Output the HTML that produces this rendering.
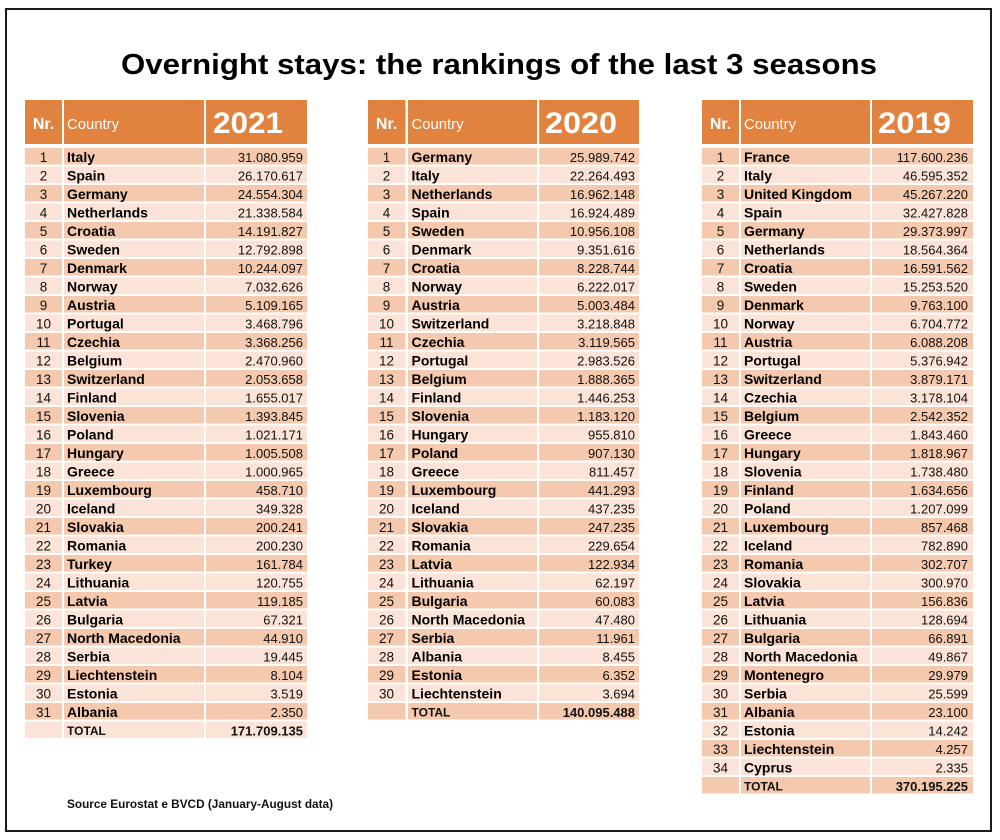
<!DOCTYPE html>
<html><head><meta charset="utf-8"><style>
html,body{margin:0;padding:0;background:#fff;}
svg{display:block;}
.t{font-family:"Liberation Sans",Arial,sans-serif;}
.nr{font-size:13.5px;fill:#111;text-anchor:middle;}
.c{font-size:14px;font-weight:bold;fill:#000;}
.v{font-size:13px;fill:#111;text-anchor:end;}
.vb{font-size:13px;font-weight:bold;fill:#111;text-anchor:end;}
.tot{font-size:12px;font-weight:bold;fill:#111;}
.hn{font-size:16px;font-weight:bold;fill:#fff;text-anchor:middle;}
.hc{font-size:15px;fill:#fff;}
.hy{font-size:30px;font-weight:bold;fill:#fff;}
</style></head><body>
<svg width="1000" height="840" viewBox="0 0 1000 840" xmlns="http://www.w3.org/2000/svg">
<defs>
<pattern id="st" patternUnits="userSpaceOnUse" x="0" y="148" width="10" height="37">
<rect x="0" y="0" width="10" height="16.5" fill="#F5C9AE"/>
<rect x="0" y="18.5" width="10" height="16.5" fill="#FBE4D7"/>
</pattern>
</defs>
<rect x="0" y="0" width="1000" height="840" fill="#fff"/>
<rect x="6" y="9" width="985" height="822" fill="none" stroke="#1a1a1a" stroke-width="2"/>

<text class="t" x="121" y="74" font-size="29" font-weight="bold" fill="#000" textLength="756" lengthAdjust="spacingAndGlyphs">Overnight stays: the rankings of the last 3 seasons</text>

<!-- Table 1 -->
<rect x="25" y="100" width="282" height="44" fill="#E2823F"/>
<rect x="25" y="148" width="282" height="590" fill="url(#st)"/>
<rect x="62" y="98" width="2" height="645" fill="#fff"/>
<rect x="204" y="98" width="2" height="645" fill="#fff"/>
<text class="t hn" x="43.5" y="129">Nr.</text>
<text class="t hc" x="67" y="129" textLength="52" lengthAdjust="spacingAndGlyphs">Country</text>
<text class="t hy" x="213" y="133" textLength="70" lengthAdjust="spacingAndGlyphs">2021</text>

<text class="t nr"><tspan x="43.5" y="162">1</tspan><tspan x="43.5" dy="18.5">2</tspan><tspan x="43.5" dy="18.5">3</tspan><tspan x="43.5" dy="18.5">4</tspan><tspan x="43.5" dy="18.5">5</tspan><tspan x="43.5" dy="18.5">6</tspan><tspan x="43.5" dy="18.5">7</tspan><tspan x="43.5" dy="18.5">8</tspan><tspan x="43.5" dy="18.5">9</tspan><tspan x="43.5" dy="18.5">10</tspan><tspan x="43.5" dy="18.5">11</tspan><tspan x="43.5" dy="18.5">12</tspan><tspan x="43.5" dy="18.5">13</tspan><tspan x="43.5" dy="18.5">14</tspan><tspan x="43.5" dy="18.5">15</tspan><tspan x="43.5" dy="18.5">16</tspan><tspan x="43.5" dy="18.5">17</tspan><tspan x="43.5" dy="18.5">18</tspan><tspan x="43.5" dy="18.5">19</tspan><tspan x="43.5" dy="18.5">20</tspan><tspan x="43.5" dy="18.5">21</tspan><tspan x="43.5" dy="18.5">22</tspan><tspan x="43.5" dy="18.5">23</tspan><tspan x="43.5" dy="18.5">24</tspan><tspan x="43.5" dy="18.5">25</tspan><tspan x="43.5" dy="18.5">26</tspan><tspan x="43.5" dy="18.5">27</tspan><tspan x="43.5" dy="18.5">28</tspan><tspan x="43.5" dy="18.5">29</tspan><tspan x="43.5" dy="18.5">30</tspan><tspan x="43.5" dy="18.5">31</tspan></text>
<text class="t c"><tspan x="67" y="162">Italy</tspan><tspan x="67" dy="18.5">Spain</tspan><tspan x="67" dy="18.5">Germany</tspan><tspan x="67" dy="18.5">Netherlands</tspan><tspan x="67" dy="18.5">Croatia</tspan><tspan x="67" dy="18.5">Sweden</tspan><tspan x="67" dy="18.5">Denmark</tspan><tspan x="67" dy="18.5">Norway</tspan><tspan x="67" dy="18.5">Austria</tspan><tspan x="67" dy="18.5">Portugal</tspan><tspan x="67" dy="18.5">Czechia</tspan><tspan x="67" dy="18.5">Belgium</tspan><tspan x="67" dy="18.5">Switzerland</tspan><tspan x="67" dy="18.5">Finland</tspan><tspan x="67" dy="18.5">Slovenia</tspan><tspan x="67" dy="18.5">Poland</tspan><tspan x="67" dy="18.5">Hungary</tspan><tspan x="67" dy="18.5">Greece</tspan><tspan x="67" dy="18.5">Luxembourg</tspan><tspan x="67" dy="18.5">Iceland</tspan><tspan x="67" dy="18.5">Slovakia</tspan><tspan x="67" dy="18.5">Romania</tspan><tspan x="67" dy="18.5">Turkey</tspan><tspan x="67" dy="18.5">Lithuania</tspan><tspan x="67" dy="18.5">Latvia</tspan><tspan x="67" dy="18.5">Bulgaria</tspan><tspan x="67" dy="18.5">North Macedonia</tspan><tspan x="67" dy="18.5">Serbia</tspan><tspan x="67" dy="18.5">Liechtenstein</tspan><tspan x="67" dy="18.5">Estonia</tspan><tspan x="67" dy="18.5">Albania</tspan></text>
<text class="t v"><tspan x="303" y="162">31.080.959</tspan><tspan x="303" dy="18.5">26.170.617</tspan><tspan x="303" dy="18.5">24.554.304</tspan><tspan x="303" dy="18.5">21.338.584</tspan><tspan x="303" dy="18.5">14.191.827</tspan><tspan x="303" dy="18.5">12.792.898</tspan><tspan x="303" dy="18.5">10.244.097</tspan><tspan x="303" dy="18.5">7.032.626</tspan><tspan x="303" dy="18.5">5.109.165</tspan><tspan x="303" dy="18.5">3.468.796</tspan><tspan x="303" dy="18.5">3.368.256</tspan><tspan x="303" dy="18.5">2.470.960</tspan><tspan x="303" dy="18.5">2.053.658</tspan><tspan x="303" dy="18.5">1.655.017</tspan><tspan x="303" dy="18.5">1.393.845</tspan><tspan x="303" dy="18.5">1.021.171</tspan><tspan x="303" dy="18.5">1.005.508</tspan><tspan x="303" dy="18.5">1.000.965</tspan><tspan x="303" dy="18.5">458.710</tspan><tspan x="303" dy="18.5">349.328</tspan><tspan x="303" dy="18.5">200.241</tspan><tspan x="303" dy="18.5">200.230</tspan><tspan x="303" dy="18.5">161.784</tspan><tspan x="303" dy="18.5">120.755</tspan><tspan x="303" dy="18.5">119.185</tspan><tspan x="303" dy="18.5">67.321</tspan><tspan x="303" dy="18.5">44.910</tspan><tspan x="303" dy="18.5">19.445</tspan><tspan x="303" dy="18.5">8.104</tspan><tspan x="303" dy="18.5">3.519</tspan><tspan x="303" dy="18.5">2.350</tspan></text>
<text class="t tot" x="67" y="735">TOTAL</text>
<text class="t vb" x="303" y="735.5">171.709.135</text>

<!-- Table 2 -->
<rect x="368" y="100" width="271" height="44" fill="#E2823F"/>
<rect x="368" y="148" width="271" height="571.5" fill="url(#st)"/>
<rect x="405.5" y="98" width="2.5" height="625" fill="#fff"/>
<rect x="537" y="98" width="2.2" height="625" fill="#fff"/>
<text class="t hn" x="386.5" y="129">Nr.</text>
<text class="t hc" x="411.5" y="129" textLength="52" lengthAdjust="spacingAndGlyphs">Country</text>
<text class="t hy" x="545" y="133" textLength="72" lengthAdjust="spacingAndGlyphs">2020</text>

<text class="t nr"><tspan x="386.5" y="162">1</tspan><tspan x="386.5" dy="18.5">2</tspan><tspan x="386.5" dy="18.5">3</tspan><tspan x="386.5" dy="18.5">4</tspan><tspan x="386.5" dy="18.5">5</tspan><tspan x="386.5" dy="18.5">6</tspan><tspan x="386.5" dy="18.5">7</tspan><tspan x="386.5" dy="18.5">8</tspan><tspan x="386.5" dy="18.5">9</tspan><tspan x="386.5" dy="18.5">10</tspan><tspan x="386.5" dy="18.5">11</tspan><tspan x="386.5" dy="18.5">12</tspan><tspan x="386.5" dy="18.5">13</tspan><tspan x="386.5" dy="18.5">14</tspan><tspan x="386.5" dy="18.5">15</tspan><tspan x="386.5" dy="18.5">16</tspan><tspan x="386.5" dy="18.5">17</tspan><tspan x="386.5" dy="18.5">18</tspan><tspan x="386.5" dy="18.5">19</tspan><tspan x="386.5" dy="18.5">20</tspan><tspan x="386.5" dy="18.5">21</tspan><tspan x="386.5" dy="18.5">22</tspan><tspan x="386.5" dy="18.5">23</tspan><tspan x="386.5" dy="18.5">24</tspan><tspan x="386.5" dy="18.5">25</tspan><tspan x="386.5" dy="18.5">26</tspan><tspan x="386.5" dy="18.5">27</tspan><tspan x="386.5" dy="18.5">28</tspan><tspan x="386.5" dy="18.5">29</tspan><tspan x="386.5" dy="18.5">30</tspan></text>
<text class="t c"><tspan x="411.5" y="162">Germany</tspan><tspan x="411.5" dy="18.5">Italy</tspan><tspan x="411.5" dy="18.5">Netherlands</tspan><tspan x="411.5" dy="18.5">Spain</tspan><tspan x="411.5" dy="18.5">Sweden</tspan><tspan x="411.5" dy="18.5">Denmark</tspan><tspan x="411.5" dy="18.5">Croatia</tspan><tspan x="411.5" dy="18.5">Norway</tspan><tspan x="411.5" dy="18.5">Austria</tspan><tspan x="411.5" dy="18.5">Switzerland</tspan><tspan x="411.5" dy="18.5">Czechia</tspan><tspan x="411.5" dy="18.5">Portugal</tspan><tspan x="411.5" dy="18.5">Belgium</tspan><tspan x="411.5" dy="18.5">Finland</tspan><tspan x="411.5" dy="18.5">Slovenia</tspan><tspan x="411.5" dy="18.5">Hungary</tspan><tspan x="411.5" dy="18.5">Poland</tspan><tspan x="411.5" dy="18.5">Greece</tspan><tspan x="411.5" dy="18.5">Luxembourg</tspan><tspan x="411.5" dy="18.5">Iceland</tspan><tspan x="411.5" dy="18.5">Slovakia</tspan><tspan x="411.5" dy="18.5">Romania</tspan><tspan x="411.5" dy="18.5">Latvia</tspan><tspan x="411.5" dy="18.5">Lithuania</tspan><tspan x="411.5" dy="18.5">Bulgaria</tspan><tspan x="411.5" dy="18.5">North Macedonia</tspan><tspan x="411.5" dy="18.5">Serbia</tspan><tspan x="411.5" dy="18.5">Albania</tspan><tspan x="411.5" dy="18.5">Estonia</tspan><tspan x="411.5" dy="18.5">Liechtenstein</tspan></text>
<text class="t v"><tspan x="635" y="162">25.989.742</tspan><tspan x="635" dy="18.5">22.264.493</tspan><tspan x="635" dy="18.5">16.962.148</tspan><tspan x="635" dy="18.5">16.924.489</tspan><tspan x="635" dy="18.5">10.956.108</tspan><tspan x="635" dy="18.5">9.351.616</tspan><tspan x="635" dy="18.5">8.228.744</tspan><tspan x="635" dy="18.5">6.222.017</tspan><tspan x="635" dy="18.5">5.003.484</tspan><tspan x="635" dy="18.5">3.218.848</tspan><tspan x="635" dy="18.5">3.119.565</tspan><tspan x="635" dy="18.5">2.983.526</tspan><tspan x="635" dy="18.5">1.888.365</tspan><tspan x="635" dy="18.5">1.446.253</tspan><tspan x="635" dy="18.5">1.183.120</tspan><tspan x="635" dy="18.5">955.810</tspan><tspan x="635" dy="18.5">907.130</tspan><tspan x="635" dy="18.5">811.457</tspan><tspan x="635" dy="18.5">441.293</tspan><tspan x="635" dy="18.5">437.235</tspan><tspan x="635" dy="18.5">247.235</tspan><tspan x="635" dy="18.5">229.654</tspan><tspan x="635" dy="18.5">122.934</tspan><tspan x="635" dy="18.5">62.197</tspan><tspan x="635" dy="18.5">60.083</tspan><tspan x="635" dy="18.5">47.480</tspan><tspan x="635" dy="18.5">11.961</tspan><tspan x="635" dy="18.5">8.455</tspan><tspan x="635" dy="18.5">6.352</tspan><tspan x="635" dy="18.5">3.694</tspan></text>
<text class="t tot" x="411.5" y="716.5">TOTAL</text>
<text class="t vb" x="635" y="717">140.095.488</text>

<!-- Table 3 -->
<rect x="702" y="100" width="271" height="44" fill="#E2823F"/>
<rect x="702" y="148" width="271" height="645.5" fill="url(#st)"/>
<rect x="739" y="98" width="2" height="700" fill="#fff"/>
<rect x="870" y="98" width="2" height="700" fill="#fff"/>
<text class="t hn" x="720.5" y="129">Nr.</text>
<text class="t hc" x="744" y="129" textLength="52" lengthAdjust="spacingAndGlyphs">Country</text>
<text class="t hy" x="878" y="133" textLength="73" lengthAdjust="spacingAndGlyphs">2019</text>

<text class="t nr"><tspan x="720.5" y="162">1</tspan><tspan x="720.5" dy="18.5">2</tspan><tspan x="720.5" dy="18.5">3</tspan><tspan x="720.5" dy="18.5">4</tspan><tspan x="720.5" dy="18.5">5</tspan><tspan x="720.5" dy="18.5">6</tspan><tspan x="720.5" dy="18.5">7</tspan><tspan x="720.5" dy="18.5">8</tspan><tspan x="720.5" dy="18.5">9</tspan><tspan x="720.5" dy="18.5">10</tspan><tspan x="720.5" dy="18.5">11</tspan><tspan x="720.5" dy="18.5">12</tspan><tspan x="720.5" dy="18.5">13</tspan><tspan x="720.5" dy="18.5">14</tspan><tspan x="720.5" dy="18.5">15</tspan><tspan x="720.5" dy="18.5">16</tspan><tspan x="720.5" dy="18.5">17</tspan><tspan x="720.5" dy="18.5">18</tspan><tspan x="720.5" dy="18.5">19</tspan><tspan x="720.5" dy="18.5">20</tspan><tspan x="720.5" dy="18.5">21</tspan><tspan x="720.5" dy="18.5">22</tspan><tspan x="720.5" dy="18.5">23</tspan><tspan x="720.5" dy="18.5">24</tspan><tspan x="720.5" dy="18.5">25</tspan><tspan x="720.5" dy="18.5">26</tspan><tspan x="720.5" dy="18.5">27</tspan><tspan x="720.5" dy="18.5">28</tspan><tspan x="720.5" dy="18.5">29</tspan><tspan x="720.5" dy="18.5">30</tspan><tspan x="720.5" dy="18.5">31</tspan><tspan x="720.5" dy="18.5">32</tspan><tspan x="720.5" dy="18.5">33</tspan><tspan x="720.5" dy="18.5">34</tspan></text>
<text class="t c"><tspan x="744" y="162">France</tspan><tspan x="744" dy="18.5">Italy</tspan><tspan x="744" dy="18.5">United Kingdom</tspan><tspan x="744" dy="18.5">Spain</tspan><tspan x="744" dy="18.5">Germany</tspan><tspan x="744" dy="18.5">Netherlands</tspan><tspan x="744" dy="18.5">Croatia</tspan><tspan x="744" dy="18.5">Sweden</tspan><tspan x="744" dy="18.5">Denmark</tspan><tspan x="744" dy="18.5">Norway</tspan><tspan x="744" dy="18.5">Austria</tspan><tspan x="744" dy="18.5">Portugal</tspan><tspan x="744" dy="18.5">Switzerland</tspan><tspan x="744" dy="18.5">Czechia</tspan><tspan x="744" dy="18.5">Belgium</tspan><tspan x="744" dy="18.5">Greece</tspan><tspan x="744" dy="18.5">Hungary</tspan><tspan x="744" dy="18.5">Slovenia</tspan><tspan x="744" dy="18.5">Finland</tspan><tspan x="744" dy="18.5">Poland</tspan><tspan x="744" dy="18.5">Luxembourg</tspan><tspan x="744" dy="18.5">Iceland</tspan><tspan x="744" dy="18.5">Romania</tspan><tspan x="744" dy="18.5">Slovakia</tspan><tspan x="744" dy="18.5">Latvia</tspan><tspan x="744" dy="18.5">Lithuania</tspan><tspan x="744" dy="18.5">Bulgaria</tspan><tspan x="744" dy="18.5">North Macedonia</tspan><tspan x="744" dy="18.5">Montenegro</tspan><tspan x="744" dy="18.5">Serbia</tspan><tspan x="744" dy="18.5">Albania</tspan><tspan x="744" dy="18.5">Estonia</tspan><tspan x="744" dy="18.5">Liechtenstein</tspan><tspan x="744" dy="18.5">Cyprus</tspan></text>
<text class="t v"><tspan x="968" y="162">117.600.236</tspan><tspan x="968" dy="18.5">46.595.352</tspan><tspan x="968" dy="18.5">45.267.220</tspan><tspan x="968" dy="18.5">32.427.828</tspan><tspan x="968" dy="18.5">29.373.997</tspan><tspan x="968" dy="18.5">18.564.364</tspan><tspan x="968" dy="18.5">16.591.562</tspan><tspan x="968" dy="18.5">15.253.520</tspan><tspan x="968" dy="18.5">9.763.100</tspan><tspan x="968" dy="18.5">6.704.772</tspan><tspan x="968" dy="18.5">6.088.208</tspan><tspan x="968" dy="18.5">5.376.942</tspan><tspan x="968" dy="18.5">3.879.171</tspan><tspan x="968" dy="18.5">3.178.104</tspan><tspan x="968" dy="18.5">2.542.352</tspan><tspan x="968" dy="18.5">1.843.460</tspan><tspan x="968" dy="18.5">1.818.967</tspan><tspan x="968" dy="18.5">1.738.480</tspan><tspan x="968" dy="18.5">1.634.656</tspan><tspan x="968" dy="18.5">1.207.099</tspan><tspan x="968" dy="18.5">857.468</tspan><tspan x="968" dy="18.5">782.890</tspan><tspan x="968" dy="18.5">302.707</tspan><tspan x="968" dy="18.5">300.970</tspan><tspan x="968" dy="18.5">156.836</tspan><tspan x="968" dy="18.5">128.694</tspan><tspan x="968" dy="18.5">66.891</tspan><tspan x="968" dy="18.5">49.867</tspan><tspan x="968" dy="18.5">29.979</tspan><tspan x="968" dy="18.5">25.599</tspan><tspan x="968" dy="18.5">23.100</tspan><tspan x="968" dy="18.5">14.242</tspan><tspan x="968" dy="18.5">4.257</tspan><tspan x="968" dy="18.5">2.335</tspan></text>
<text class="t tot" x="744" y="790.5">TOTAL</text>
<text class="t vb" x="968" y="791">370.195.225</text>

<text class="t" x="67" y="808" font-size="12" font-weight="bold" fill="#111" textLength="266" lengthAdjust="spacingAndGlyphs">Source Eurostat e BVCD (January-August data)</text>
</svg>
</body></html>
